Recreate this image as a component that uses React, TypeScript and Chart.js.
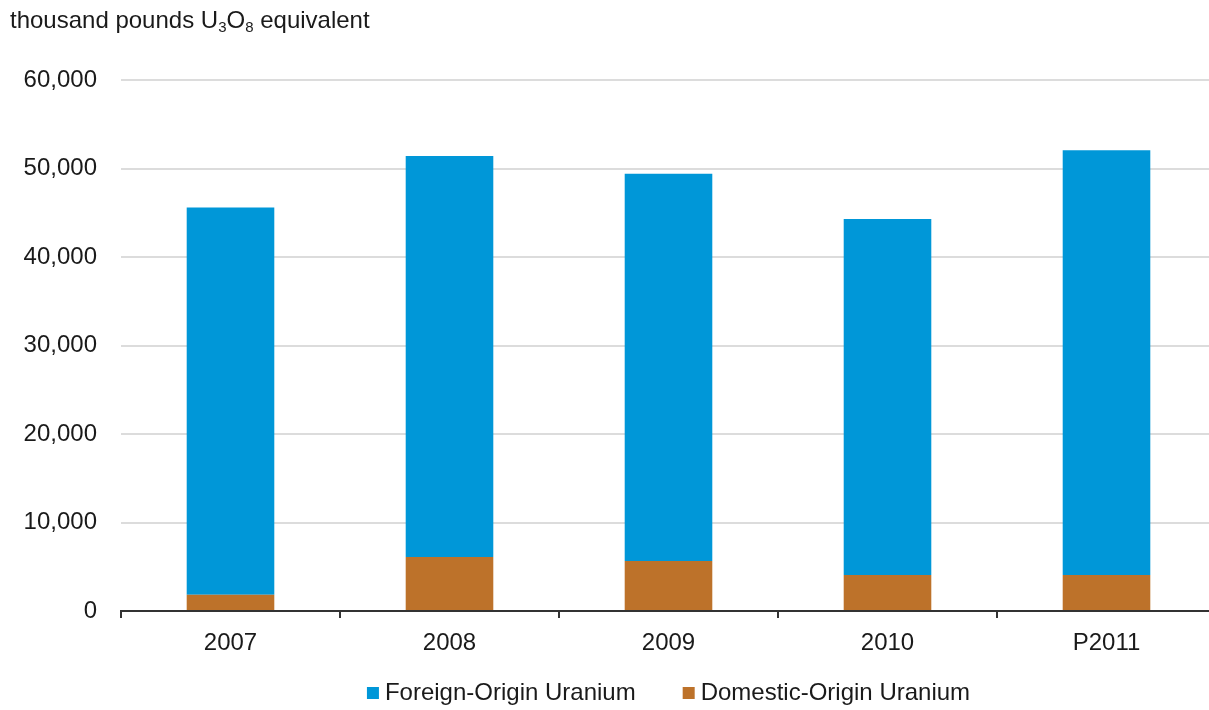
import React, { useEffect, useRef } from "react";
import { Chart, registerables } from "chart.js";

Chart.register(...registerables);

const categories = ["2007", "2008", "2009", "2010", "P2011"];
const foreignOrigin = [43760, 45310, 43760, 40240, 47990];
const domesticOrigin = [1840, 6090, 5640, 4060, 4060];
const foreignLabel = "Foreign-Origin Uranium";
const domesticLabel = "Domestic-Origin Uranium";
const foreignColor = "#0097d8";
const domesticColor = "#bd722a";
const yMin = 0;
const yMax = 60000;
const yStep = 10000;

const FONT = '"Liberation Sans", Arial, sans-serif';
const TEXT = "#1a1a1a";

const titlePlugin = {
  id: "unitTitle",
  afterDraw(chart: any) {
    const ctx = chart.ctx;
    ctx.save();
    ctx.fillStyle = TEXT;
    ctx.textBaseline = "alphabetic";
    ctx.textAlign = "left";
    const parts: [string, boolean][] = [
      ["thousand pounds U", false],
      ["3", true],
      ["O", false],
      ["8", true],
      [" equivalent", false],
    ];
    let x = 10;
    const base = 28;
    for (const [t, sub] of parts) {
      ctx.font = (sub ? "15px " : "24px ") + FONT;
      ctx.fillText(t, x, sub ? base + 4 : base);
      x += ctx.measureText(t).width;
    }
    ctx.restore();
  },
};

const legendPlugin = {
  id: "customLegend",
  afterDraw(chart: any) {
    const ctx = chart.ctx;
    const area = chart.chartArea;
    ctx.save();
    ctx.font = "24px " + FONT;
    ctx.textBaseline = "alphabetic";
    ctx.textAlign = "left";
    const items = [
      { text: foreignLabel, color: foreignColor },
      { text: domesticLabel, color: domesticColor },
    ];
    const box = 12;
    const boxGap = 6;
    const itemGap = 47;
    const widths = items.map((it) => box + boxGap + ctx.measureText(it.text).width);
    const total = widths.reduce((a, b) => a + b, 0) + itemGap * (items.length - 1);
    let x = (area.left + area.right) / 2 - total / 2;
    const baseline = 700;
    items.forEach((it, i) => {
      ctx.fillStyle = it.color;
      ctx.fillRect(x, baseline - box - 1, box, box);
      ctx.fillStyle = TEXT;
      ctx.fillText(it.text, x + box + boxGap, baseline);
      x += widths[i] + itemGap;
    });
    ctx.restore();
  },
};

export default function App() {
  const ref = useRef<HTMLCanvasElement | null>(null);
  useEffect(() => {
    if (!ref.current) return;
    const chart = new Chart(ref.current, {
      type: "bar",
      data: {
        labels: categories,
        datasets: [
          {
            label: domesticLabel,
            data: domesticOrigin,
            backgroundColor: domesticColor,
            borderWidth: 0,
            barPercentage: 0.4,
            categoryPercentage: 1,
          },
          {
            label: foreignLabel,
            data: foreignOrigin,
            backgroundColor: foreignColor,
            borderWidth: 0,
            barPercentage: 0.4,
            categoryPercentage: 1,
          },
        ],
      },
      options: {
        responsive: false,
        animation: false,
        devicePixelRatio: 1,
        layout: { padding: { top: 80, left: 0, right: 4, bottom: 0 } },
        plugins: {
          legend: { display: false },
          title: { display: false },
          tooltip: { enabled: false },
        },
        scales: {
          x: {
            stacked: true,
            grid: {
              offset: true,
              drawOnChartArea: false,
              drawTicks: true,
              tickLength: 7,
              color: "#333333",
              lineWidth: 2,
            },
            border: { display: true, color: "#333333", width: 2 },
            ticks: {
              color: TEXT,
              font: { family: FONT, size: 24 },
              padding: 11,
              maxRotation: 0,
            },
            afterFit(scale: any) {
              scale.height = 99;
            },
          },
          y: {
            stacked: true,
            min: yMin,
            max: yMax,
            grid: {
              color: "#dcdcdc",
              lineWidth: 2,
              drawTicks: false,
            },
            border: { display: false },
            ticks: {
              stepSize: yStep,
              color: TEXT,
              font: { family: FONT, size: 24 },
              padding: 24,
              callback: (v: any) => Number(v).toLocaleString("en-US"),
            },
            afterFit(scale: any) {
              scale.width = 121;
            },
          },
        },
      },
      plugins: [titlePlugin, legendPlugin],
    });
    return () => chart.destroy();
  }, []);
  return (
    <div
      style={{
        position: "fixed",
        left: 0,
        top: 0,
        width: 1209,
        height: 710,
        overflow: "hidden",
        background: "#ffffff",
      }}
    >
      <canvas ref={ref} width={1220} height={710} style={{ width: 1220, height: 710, display: "block" }} />
    </div>
  );
}
